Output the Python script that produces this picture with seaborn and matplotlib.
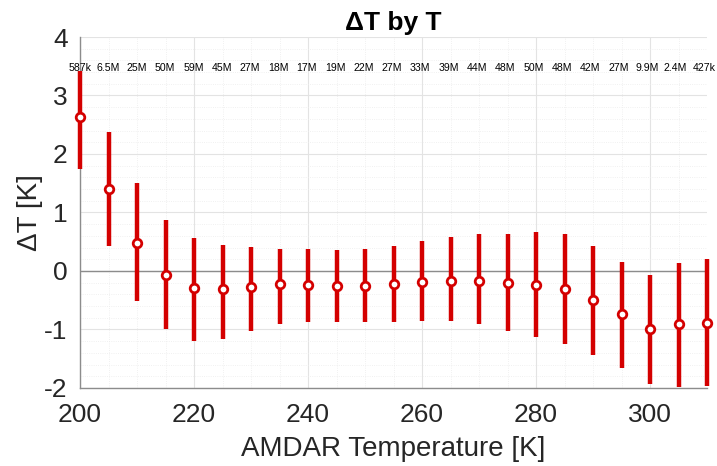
import numpy as np
import pandas as pd
import matplotlib
matplotlib.use("Agg")
import matplotlib.pyplot as plt
import seaborn as sns
from matplotlib.ticker import MultipleLocator

temps = [200, 205, 210, 215, 220, 225, 230, 235, 240, 245, 250, 255,
         260, 265, 270, 275, 280, 285, 290, 295, 300, 305, 310]
mean_dT = [2.63, 1.40, 0.48, -0.06, -0.29, -0.31, -0.27, -0.23, -0.24, -0.25, -0.25, -0.23,
           -0.19, -0.165, -0.165, -0.205, -0.235, -0.31, -0.49, -0.74, -1.00, -0.91, -0.89]
upper_dT = [3.42, 2.37, 1.50, 0.87, 0.56, 0.45, 0.41, 0.38, 0.37, 0.36, 0.37, 0.42,
            0.51, 0.58, 0.63, 0.63, 0.66, 0.63, 0.42, 0.16, -0.07, 0.14, 0.20]
lower_dT = [1.74, 0.42, -0.52, -1.00, -1.19, -1.17, -1.02, -0.90, -0.87, -0.87, -0.88, -0.87,
            -0.86, -0.86, -0.91, -1.02, -1.13, -1.25, -1.43, -1.66, -1.93, -1.98, -1.97]
counts = ["587k", "6.5M", "25M", "50M", "59M", "45M", "27M", "18M", "17M", "19M", "22M", "27M",
          "33M", "39M", "44M", "48M", "50M", "48M", "42M", "27M", "9.9M", "2.4M", "427k"]

df = pd.DataFrame({"T": temps, "dT": mean_dT, "hi": upper_dT, "lo": lower_dT, "n": counts})

sns.set_theme(style="white")
plt.rcParams["font.family"] = ["Liberation Sans", "DejaVu Sans"]
plt.rcParams["axes.unicode_minus"] = False

red = "#D40000"
fig = plt.figure(figsize=(7.17, 4.66), dpi=100)
ax = fig.add_axes([0.1116, 0.1674, 0.8745, 0.7532])

ax.set_xlim(200, 310)
ax.set_ylim(-2, 4)
ax.xaxis.set_major_locator(MultipleLocator(20))
ax.xaxis.set_minor_locator(MultipleLocator(5))
ax.yaxis.set_major_locator(MultipleLocator(1))
ax.yaxis.set_minor_locator(MultipleLocator(0.2))
ax.grid(True, which="major", color="#e3e3e3", linewidth=0.8, linestyle="-")
ax.grid(True, which="minor", color="#ececec", linewidth=0.6, linestyle=":")
ax.set_axisbelow(True)

ax.axhline(0, color="#8c8c8c", linewidth=1.0, zorder=1)

ax.vlines(df["T"], df["lo"], df["hi"], color=red, linewidth=3.2, zorder=3, clip_on=False)
sns.scatterplot(data=df, x="T", y="dT", ax=ax, marker="o", s=38, color="white",
                edgecolor=red, linewidth=2.0, zorder=4, clip_on=False, legend=False)

for i, (t, c) in enumerate(zip(df["T"], df["n"])):
    # counts drift slightly left toward the right end in the reference
    dx = -0.55 * (t - 200) / 110.0
    ax.text(t + dx, 3.47, c, ha="center", va="center", fontsize=7.6, color="black",
            family=["Liberation Sans", "DejaVu Sans"])

for side in ["top", "right"]:
    ax.spines[side].set_visible(False)
for side in ["left", "bottom"]:
    ax.spines[side].set_color("#8c8c8c")
    ax.spines[side].set_linewidth(1.0)

ax.tick_params(axis="both", which="major", direction="in", length=5, width=0.8,
               color="#8c8c8c", labelsize=19, labelcolor="#262626")
ax.tick_params(axis="x", which="major", pad=11)
ax.tick_params(axis="y", which="major", pad=9)
ax.tick_params(axis="both", which="minor", length=0)

ax.set_xlabel("AMDAR Temperature [K]", fontsize=20, color="#262626", labelpad=6)
ax.set_ylabel("ΔT [K]", fontsize=20, color="#262626", labelpad=1)
ax.set_title("ΔT by T", fontsize=19, fontweight="bold", color="black", pad=5)

fig.savefig("out.png", dpi=100)
